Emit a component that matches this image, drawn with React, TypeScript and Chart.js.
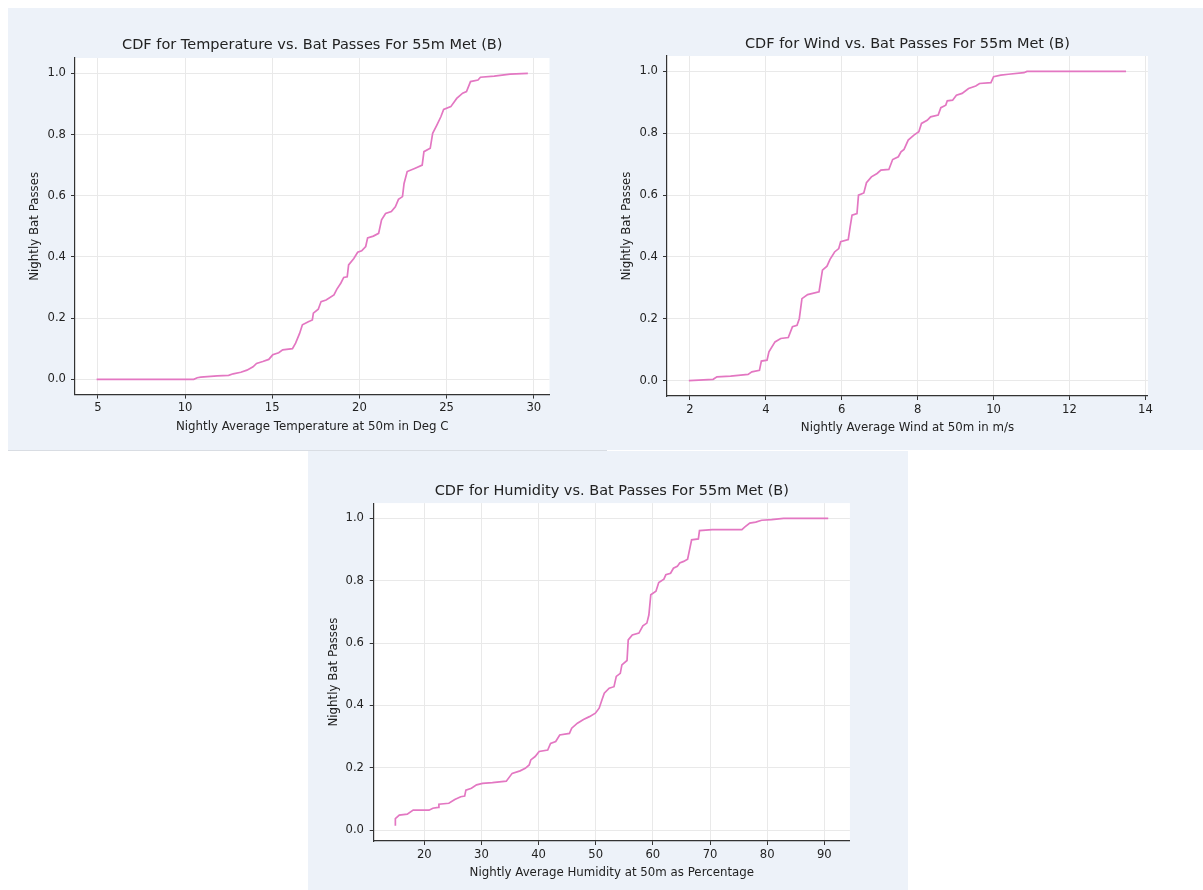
import React, { useEffect, useRef } from 'react';
import { Chart, registerables } from 'chart.js';

Chart.register(...registerables);

const LINE_COLOR = '#e377c2';
const Y_TICKS = [0, 0.2, 0.4, 0.6, 0.8, 1.0];

const TEMP_X_TICKS = [5, 10, 15, 20, 25, 30];
const WIND_X_TICKS = [2, 4, 6, 8, 10, 12, 14];
const HUM_X_TICKS = [20, 30, 40, 50, 60, 70, 80, 90];

const TEMP_X = [
  4.93, 10.5, 10.7, 10.9, 11.85,
  12.5, 12.76, 13.2, 13.55, 13.9,
  14.1, 14.46, 14.8, 15.03, 15.37,
  15.6, 16.16, 16.34, 16.57, 16.73,
  17.07, 17.3, 17.36, 17.64, 17.8,
  18.09, 18.54, 18.7, 18.93, 19.1,
  19.3, 19.38, 19.68, 19.9, 20.13,
  20.36, 20.47, 20.8, 21.1, 21.27,
  21.5, 21.83, 22.06, 22.24, 22.47,
  22.56, 22.74, 23.2, 23.6, 23.7,
  24.06, 24.2, 24.44, 24.67, 24.83,
  25.24, 25.58, 25.92, 26.14, 26.37,
  26.8, 26.94, 27.73, 28.64, 29.66,
];
const TEMP_Y = [
  0, 0, 0.005, 0.007, 0.011,
  0.013, 0.018, 0.023, 0.03, 0.041,
  0.052, 0.058, 0.065, 0.08, 0.087,
  0.096, 0.1, 0.118, 0.15, 0.178,
  0.188, 0.194, 0.216, 0.229, 0.254,
  0.259, 0.276, 0.294, 0.314, 0.333,
  0.335, 0.374, 0.395, 0.415, 0.42,
  0.434, 0.462, 0.468, 0.477, 0.521,
  0.542, 0.548, 0.564, 0.588, 0.597,
  0.64, 0.679, 0.69, 0.7, 0.744,
  0.755, 0.804, 0.831, 0.858, 0.882,
  0.891, 0.918, 0.935, 0.94, 0.973,
  0.978, 0.987, 0.991, 0.997, 1.0,
];

const WIND_X = [
  1.97, 2.61, 2.71, 3.07, 3.27,
  3.53, 3.63, 3.83, 3.88, 4.03,
  4.08, 4.24, 4.39, 4.59, 4.7,
  4.82, 4.88, 4.95, 5.1, 5.4,
  5.49, 5.61, 5.69, 5.81, 5.92,
  5.97, 6.17, 6.22, 6.27, 6.4,
  6.44, 6.58, 6.65, 6.78, 6.93,
  7.03, 7.24, 7.34, 7.49, 7.56,
  7.64, 7.75, 7.9, 8.03, 8.1,
  8.25, 8.34, 8.54, 8.61, 8.74,
  8.78, 8.92, 9.02, 9.17, 9.34,
  9.53, 9.63, 9.93, 10.0, 10.19,
  10.39, 10.8, 10.88, 13.49,
];
const WIND_Y = [
  0, 0.004, 0.012, 0.014, 0.017,
  0.02, 0.028, 0.033, 0.063, 0.066,
  0.093, 0.125, 0.136, 0.139, 0.174,
  0.179, 0.2, 0.265, 0.278, 0.287,
  0.357, 0.37, 0.392, 0.416, 0.427,
  0.449, 0.456, 0.497, 0.535, 0.54,
  0.6, 0.607, 0.64, 0.659, 0.67,
  0.681, 0.683, 0.715, 0.724, 0.74,
  0.748, 0.778, 0.794, 0.805, 0.832,
  0.842, 0.853, 0.859, 0.883, 0.891,
  0.905, 0.907, 0.923, 0.929, 0.945,
  0.953, 0.961, 0.964, 0.983, 0.988,
  0.991, 0.996, 1.0, 1.0,
];

const HUM_X = [
  14.94, 14.94, 15.63, 17.02, 18.06,
  20.83, 21.5, 22.43, 22.56, 24.3,
  25.34, 26.38, 27.07, 27.28, 28.25,
  29.15, 30.19, 31.92, 34.35, 35.38,
  36.77, 37.67, 38.36, 38.64, 39.4,
  40.1, 41.6, 42.1, 43.0, 43.7,
  45.4, 45.8, 46.8, 47.86, 48.9,
  49.94, 50.6, 51.1, 51.5, 52.36,
  53.2, 53.6, 54.3, 54.58, 55.48,
  55.69, 56.4, 57.56, 58.25, 58.95,
  59.3, 59.64, 60.54, 61.03, 61.93,
  62.27, 63.1, 63.6, 64.28, 64.7,
  65.39, 66.08, 66.78, 67.96, 68.16,
  70.38, 75.58, 76.06, 76.96, 78.0,
  79.04, 80.78, 82.86, 90.69,
];
const HUM_Y = [
  0.014, 0.037, 0.048, 0.051, 0.064,
  0.064, 0.07, 0.073, 0.083, 0.086,
  0.098, 0.107, 0.109, 0.128, 0.134,
  0.145, 0.15, 0.152, 0.157, 0.182,
  0.19, 0.198, 0.209, 0.225, 0.236,
  0.252, 0.257, 0.278, 0.284, 0.305,
  0.31, 0.327, 0.343, 0.355, 0.364,
  0.375, 0.391, 0.418, 0.439, 0.455,
  0.46, 0.493, 0.503, 0.53, 0.544,
  0.61, 0.626, 0.632, 0.655, 0.664,
  0.69, 0.755, 0.766, 0.794, 0.805,
  0.819, 0.824, 0.84, 0.846, 0.857,
  0.862, 0.869, 0.931, 0.934, 0.961,
  0.964, 0.964, 0.972, 0.985, 0.988,
  0.994, 0.996, 1.0, 1.0,
];

const FONT = "'DejaVu Sans', sans-serif";
const TEXT_COLOR = '#222222';
const SPINE_COLOR = '#333333';
const GRID_COLOR = '#e9e9e9';
const PANEL_BG = '#edf2f9';
const TITLE_SIZE = 14.5;
const LABEL_SIZE = 11.8;
const TICK_SIZE = 11.6;

type Spec = {
  title: string;
  xLabel: string;
  xs: number[];
  ys: number[];
  xTicks: number[];
  xMin: number;
  xMax: number;
  yMin: number;
  yMax: number;
  left: number;
  top: number;
  width: number;
  height: number;
  yAxisWidth: number;
  xAxisHeight: number;
  padRight: number;
  titlePadTop: number;
  titlePadBottom: number;
  yTitlePad: number;
  yTickPad: number;
  xTickPad: number;
  xTitlePad: number;
};

const plotBg = {
  id: 'plotBg',
  beforeDraw(chart: any) {
    const { ctx, chartArea } = chart;
    if (!chartArea) return;
    ctx.save();
    ctx.fillStyle = '#ffffff';
    ctx.fillRect(chartArea.left, chartArea.top, chartArea.right - chartArea.left, chartArea.bottom - chartArea.top);
    ctx.restore();
  },
};

function CdfChart({ spec }: { spec: Spec }) {
  const ref = useRef<HTMLCanvasElement | null>(null);
  useEffect(() => {
    if (!ref.current) return;
    const data = spec.xs.map((x, i) => ({ x, y: spec.ys[i] }));
    const chart = new Chart(ref.current, {
      type: 'line',
      data: {
        datasets: [
          {
            data,
            borderColor: LINE_COLOR,
            borderWidth: 1.7,
            pointRadius: 0,
            tension: 0,
            fill: false,
          },
        ],
      },
      options: {
        animation: false,
        responsive: false,
        devicePixelRatio: 1,
        parsing: false as any,
        normalized: true,
        layout: { padding: { left: 0, top: 0, right: spec.padRight, bottom: 0 } },
        plugins: {
          legend: { display: false },
          tooltip: { enabled: false },
          title: {
            display: true,
            text: spec.title,
            fullSize: false,
            color: TEXT_COLOR,
            font: { family: FONT, size: TITLE_SIZE, weight: 'normal', lineHeight: 1.2 },
            padding: { top: spec.titlePadTop, bottom: spec.titlePadBottom },
          },
        },
        scales: {
          x: {
            type: 'linear',
            min: spec.xMin,
            max: spec.xMax,
            afterBuildTicks: (scale: any) => {
              scale.ticks = spec.xTicks.map((v) => ({ value: v }));
            },
            afterFit: (scale: any) => {
              scale.height = spec.xAxisHeight;
            },
            grid: {
              color: GRID_COLOR,
              lineWidth: 1,
              drawTicks: true,
              tickLength: 4,
              tickColor: SPINE_COLOR,
              tickWidth: 1,
            },
            border: { display: true, color: SPINE_COLOR, width: 1.2 },
            ticks: {
              color: TEXT_COLOR,
              font: { family: FONT, size: TICK_SIZE, lineHeight: 1.2 },
              padding: spec.xTickPad,
              maxRotation: 0,
              autoSkip: false,
              callback: (v: any) => String(v),
            },
            title: {
              display: true,
              text: spec.xLabel,
              color: TEXT_COLOR,
              font: { family: FONT, size: LABEL_SIZE, lineHeight: 1.2 },
              padding: { top: 0, bottom: spec.xTitlePad },
            },
          },
          y: {
            type: 'linear',
            min: spec.yMin,
            max: spec.yMax,
            afterBuildTicks: (scale: any) => {
              scale.ticks = Y_TICKS.map((v) => ({ value: v }));
            },
            afterFit: (scale: any) => {
              scale.width = spec.yAxisWidth;
            },
            grid: {
              color: GRID_COLOR,
              lineWidth: 1,
              drawTicks: true,
              tickLength: 4,
              tickColor: SPINE_COLOR,
              tickWidth: 1,
            },
            border: { display: true, color: SPINE_COLOR, width: 1.2 },
            ticks: {
              color: TEXT_COLOR,
              font: { family: FONT, size: TICK_SIZE, lineHeight: 1.2 },
              padding: spec.yTickPad,
              autoSkip: false,
              callback: (v: any) => Number(v).toFixed(1),
            },
            title: {
              display: true,
              text: 'Nightly Bat Passes',
              color: TEXT_COLOR,
              font: { family: FONT, size: LABEL_SIZE, lineHeight: 1.2 },
              padding: { top: spec.yTitlePad, bottom: 0 },
            },
          },
        },
      },
      plugins: [plotBg],
    } as any);
    return () => chart.destroy();
  }, [spec]);
  return (
    <canvas
      ref={ref}
      width={spec.width}
      height={spec.height}
      style={{ position: 'absolute', left: spec.left, top: spec.top, width: spec.width, height: spec.height }}
    />
  );
}

const SPECS: Spec[] = [
  {
    title: 'CDF for Temperature vs. Bat Passes For 55m Met (B)',
    xLabel: 'Nightly Average Temperature at 50m in Deg C',
    xs: TEMP_X,
    ys: TEMP_Y,
    xTicks: TEMP_X_TICKS,
    xMin: 3.69,
    xMax: 30.9,
    yMin: -0.05,
    yMax: 1.05,
    left: 8,
    top: 8,
    width: 597,
    height: 442,
    yAxisWidth: 67,
    xAxisHeight: 55.4,
    padRight: 55.5,
    titlePadTop: 28.3,
    titlePadBottom: 4.3,
    yTitlePad: 19.9,
    yTickPad: 5,
    xTickPad: 2.4,
    xTitlePad: 16.4,
  },
  {
    title: 'CDF for Wind vs. Bat Passes For 55m Met (B)',
    xLabel: 'Nightly Average Wind at 50m in m/s',
    xs: WIND_X,
    ys: WIND_Y,
    xTicks: WIND_X_TICKS,
    xMin: 1.394,
    xMax: 14.066,
    yMin: -0.05,
    yMax: 1.05,
    left: 605,
    top: 8,
    width: 598,
    height: 442,
    yAxisWidth: 62,
    xAxisHeight: 54,
    padRight: 55.1,
    titlePadTop: 27.3,
    titlePadBottom: 3.3,
    yTitlePad: 14.9,
    yTickPad: 5,
    xTickPad: 3,
    xTitlePad: 14.9,
  },
  {
    title: 'CDF for Humidity vs. Bat Passes For 55m Met (B)',
    xLabel: 'Nightly Average Humidity at 50m as Percentage',
    xs: HUM_X,
    ys: HUM_Y,
    xTicks: HUM_X_TICKS,
    xMin: 11.15,
    xMax: 94.48,
    yMin: -0.035,
    yMax: 1.049,
    left: 308,
    top: 451,
    width: 600,
    height: 439,
    yAxisWidth: 65.7,
    xAxisHeight: 49,
    padRight: 58.1,
    titlePadTop: 31.3,
    titlePadBottom: 3.4,
    yTitlePad: 18.6,
    yTickPad: 5.7,
    xTickPad: 3,
    xTitlePad: 10.4,
  },
];

export default function App() {
  return (
    <div style={{ position: 'absolute', left: 0, top: 0, width: 1203, height: 890, background: '#ffffff', overflow: 'hidden' }}>
      <div style={{ position: 'absolute', left: 8, top: 8, width: 1195, height: 442, background: PANEL_BG }} />
      <div style={{ position: 'absolute', left: 8, top: 450, width: 599, height: 1, background: '#d9dde3' }} />
      <div style={{ position: 'absolute', left: 308, top: 451, width: 600, height: 439, background: PANEL_BG }} />
      {SPECS.map((s, i) => (
        <CdfChart key={i} spec={s} />
      ))}
    </div>
  );
}
